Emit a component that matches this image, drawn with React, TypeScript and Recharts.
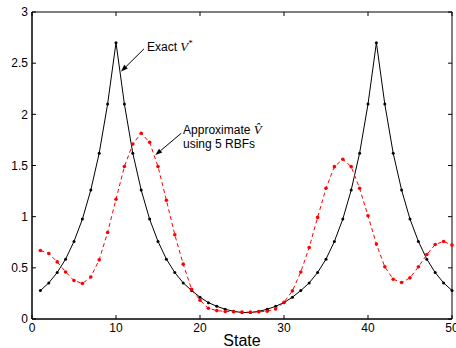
import React from 'react';
import { LineChart, Line, XAxis, YAxis, ReferenceLine, ReferenceDot, ReferenceArea } from 'recharts';

const states = [
  1, 2, 3, 4, 5, 6, 7, 8, 9, 10, 11, 12, 13, 14, 15, 16, 17, 18, 19, 20, 21, 22, 23, 24, 25,
  26, 27, 28, 29, 30, 31, 32, 33, 34, 35, 36, 37, 38, 39, 40, 41, 42, 43, 44, 45, 46, 47, 48, 49, 50,
];

const exactV = [
  0.278, 0.353, 0.454, 0.585, 0.758, 0.976, 1.26, 1.62, 2.1, 2.7,
  2.1, 1.62, 1.26, 0.976, 0.758, 0.585, 0.454, 0.353, 0.278, 0.213,
  0.16, 0.124, 0.095, 0.075, 0.063, 0.063, 0.075, 0.095, 0.124, 0.16,
  0.213, 0.278, 0.353, 0.454, 0.585, 0.758, 0.976, 1.26, 1.62, 2.1,
  2.7, 2.1, 1.62, 1.26, 0.976, 0.758, 0.585, 0.454, 0.353, 0.278,
];

const approxV = [
  0.67, 0.64, 0.558, 0.46, 0.376, 0.347, 0.41, 0.578, 0.846, 1.17,
  1.49, 1.71, 1.815, 1.727, 1.49, 1.16, 0.823, 0.536, 0.291, 0.183,
  0.105, 0.082, 0.074, 0.07, 0.067, 0.067, 0.07, 0.076, 0.098, 0.164,
  0.275, 0.46, 0.699, 0.993, 1.277, 1.489, 1.561, 1.489, 1.277, 1.009,
  0.732, 0.51, 0.389, 0.356, 0.402, 0.51, 0.63, 0.728, 0.758, 0.722,
];

const xTicks = [0, 10, 20, 30, 40, 50];
const yTicks = [0, 0.5, 1, 1.5, 2, 2.5, 3];

const data = states.map((s, i) => ({ state: s, exact: exactV[i], approx: approxV[i] }));

const FONT = '"Liberation Sans", Arial, Helvetica, sans-serif';
const SERIF = '"Liberation Serif", "Times New Roman", serif';
const TICK_LEN = 4;

// inward tick marks at both ends of a full-height / full-width reference line
const TickPair = (props: any) => {
  const x1 = Number(props.x1);
  const y1 = Number(props.y1);
  const x2 = Number(props.x2);
  const y2 = Number(props.y2);
  if (Math.abs(x1 - x2) < 0.5) {
    const top = Math.min(y1, y2);
    const bot = Math.max(y1, y2);
    return (
      <path
        d={`M${x1},${bot}L${x1},${bot - TICK_LEN}M${x1},${top}L${x1},${top + TICK_LEN}`}
        stroke="#000"
        strokeWidth={1}
        fill="none"
      />
    );
  }
  const left = Math.min(x1, x2);
  const right = Math.max(x1, x2);
  return (
    <path
      d={`M${left},${y1}L${left + TICK_LEN},${y1}M${right},${y1}L${right - TICK_LEN},${y1}`}
      stroke="#000"
      strokeWidth={1}
      fill="none"
    />
  );
};

// line with a filled arrow head at the second point
const Arrow = (props: any) => {
  const { x1, y1, x2, y2 } = props;
  const ang = Math.atan2(y2 - y1, x2 - x1);
  const len = 7;
  const half = 2.5;
  const bx = x2 - len * Math.cos(ang);
  const by = y2 - len * Math.sin(ang);
  const px = -Math.sin(ang) * half;
  const py = Math.cos(ang) * half;
  return (
    <g>
      <line x1={x1} y1={y1} x2={bx} y2={by} stroke="#000" strokeWidth={1} />
      <polygon points={`${x2},${y2} ${bx + px},${by + py} ${bx - px},${by - py}`} fill="#000" />
    </g>
  );
};

const ExactLabel = (props: any) => (
  <text x={props.cx} y={props.cy} fontFamily={FONT} fontSize={12} fill="#000">
    Exact{' '}
    <tspan fontFamily={SERIF} fontStyle="italic" fontSize={13}>V</tspan>
    <tspan fontFamily={SERIF} fontSize={9} dy={-5}>*</tspan>
  </text>
);

const ApproxLabel = (props: any) => (
  <text x={props.cx} y={props.cy} fontFamily={FONT} fontSize={12} fill="#000">
    <tspan>Approximate </tspan>
    <tspan fontFamily={SERIF} fontStyle="italic" fontSize={13}>{'V\u0302'}</tspan>
    <tspan x={props.cx} dy={14}>using 5 RBFs</tspan>
  </text>
);

export default function App() {
  return (
    <div style={{ position: 'absolute', left: 0, top: 0, background: '#fff' }}>
      <LineChart width={456} height={348} data={data} margin={{ top: 12, right: 4, left: 0, bottom: 0 }}>
        <XAxis
          dataKey="state"
          type="number"
          domain={[0, 50]}
          ticks={xTicks}
          interval={0}
          height={29}
          tickLine={false}
          tickSize={0}
          tickMargin={4}
          stroke="#000"
          tick={{ fill: '#000', fontSize: 12, fontFamily: FONT }}
          label={{ value: 'State', position: 'insideBottom', offset: 2, fill: '#000', fontSize: 16, fontFamily: FONT }}
        />
        <YAxis
          type="number"
          domain={[0, 3]}
          ticks={yTicks}
          interval={0}
          width={32}
          tickLine={false}
          tickSize={0}
          tickMargin={4}
          stroke="#000"
          tick={{ fill: '#000', fontSize: 12, fontFamily: FONT }}
        />
        <ReferenceArea x1={0} x2={50} y1={0} y2={3} fill="none" stroke="#000" strokeWidth={1} ifOverflow="visible" />
        {xTicks.map((t) => (
          <ReferenceLine key={`xt${t}`} x={t} shape={TickPair} ifOverflow="visible" />
        ))}
        {yTicks.map((t) => (
          <ReferenceLine key={`yt${t}`} y={t} shape={TickPair} ifOverflow="visible" />
        ))}
        <Line
          type="linear"
          dataKey="exact"
          stroke="#000"
          strokeWidth={1}
          dot={{ r: 1.5, fill: '#000', stroke: 'none' }}
          activeDot={false}
          isAnimationActive={false}
        />
        <Line
          type="linear"
          dataKey="approx"
          stroke="#ff0000"
          strokeWidth={1}
          strokeDasharray="4 3"
          dot={{ r: 1.8, fill: '#ff0000', stroke: 'none', strokeDasharray: '' }}
          activeDot={false}
          isAnimationActive={false}
        />
        <ReferenceLine segment={[{ x: 13.33, y: 2.64 }, { x: 10.6, y: 2.418 }]} shape={Arrow} />
        <ReferenceLine segment={[{ x: 17.77, y: 1.815 }, { x: 14.68, y: 1.602 }]} shape={Arrow} />
        <ReferenceDot x={13.69} y={2.616} r={1} shape={ExactLabel} />
        <ReferenceDot x={17.98} y={1.808} r={1} shape={ApproxLabel} />
      </LineChart>
    </div>
  );
}
